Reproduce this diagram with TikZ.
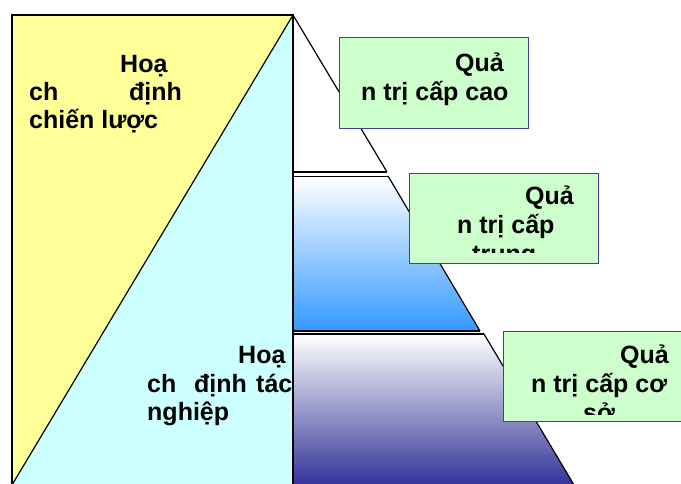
\documentclass[tikz,border=0pt]{standalone}
\usepackage{fontspec}
\setmainfont{Liberation Sans}
\definecolor{planyellow}{HTML}{FFFF99}
\definecolor{plancyan}{HTML}{CCFFFF}
\definecolor{levelgreen}{HTML}{CCFFCC}
\definecolor{levelborder}{HTML}{3F3FA0}
\definecolor{midblue}{HTML}{3399FF}
\definecolor{lowblue}{HTML}{333399}
\begin{document}
\begin{tikzpicture}[x=1pt, y=-1pt,
  edge/.style={draw=black, line width=1.6pt},
  word/.style={font=\bfseries\fontsize{25}{29}\selectfont, inner sep=0pt, anchor=base west},
  level/.style={draw=levelborder, line width=1.3pt, fill=levelgreen, anchor=north west, inner sep=0pt}]
\useasboundingbox (0,0) rectangle (681,483);
\clip (0,0) rectangle (681,483);

% planning side
\fill[planyellow] (12,15) -- (293,15) -- (12,485) -- cycle;
\fill[plancyan] (293,15) -- (293,485) -- (12,485) -- cycle;
\draw[black, line width=1.2pt] (293,15) -- (12,485);

\node[word] (strat1) at (120,72) {Hoạ};
\node[word] (strat2) at (29,100) {ch};
\node[word] (strat3) at (129,100) {định};
\node[word] (strat4) at (29,128) {chiến lược};

\begin{scope}
\clip (12,15) rectangle (291,485);
\node[word] (tact1) at (238,363) {Hoạ};
\node[word] (tact2) at (147,392) {ch};
\node[word] (tact3) at (194,392) {định};
\node[word] (tact4) at (256,392) {tác};
\node[word] (tact5) at (147,420) {nghiệp};
\end{scope}

% pyramid
\draw[edge, line width=1.2pt] (293,15) -- (387,172);
\draw[edge] (387,172) -- (293,172);
\shade[top color=white, bottom color=midblue] (293,176) -- (388,176) -- (480,331) -- (293,331) -- cycle;
\draw[black, line width=0.8pt] (293,176) -- (388,176);
\draw[black, line width=1.2pt] (388,176) -- (480,331);
\draw[edge] (480,331) -- (293,331);
\shade[top color=white, bottom color=lowblue] (293,334) -- (484,334) -- (574,485) -- (293,485) -- cycle;
\draw[edge] (293,334) -- (484,334);
\draw[black, line width=1.2pt] (484,334) -- (574,485);
\draw[edge] (12,485) -- (12,15) -- (293,15) -- (293,485);

% levels
\node[level, minimum width=189pt, minimum height=91pt] (high) at (339,37) {};
\node[word] (high1) at (455,71) {Quả};
\node[word] (high2) at (361,100) {n trị cấp cao};

\node[level, minimum width=189pt, minimum height=90pt] (middle) at (409,173) {};
\begin{scope}
\clip (409,173) rectangle (598,252);
\node[word] (middle1) at (525,204) {Quả};
\node[word] (middle2) at (457,233) {n trị cấp};
\node[word] (middle3) at (472,262) {trung};
\end{scope}

\node[level, minimum width=200pt, minimum height=90pt] (low) at (503,331) {};
\begin{scope}
\clip (503,331) rectangle (700,414);
\node[word] (low1) at (620,363) {Quả};
\node[word] (low2) at (531,392) {n trị cấp cơ};
\node[word] (low3) at (583,421) {sở};
\end{scope}
\end{tikzpicture}
\end{document}
